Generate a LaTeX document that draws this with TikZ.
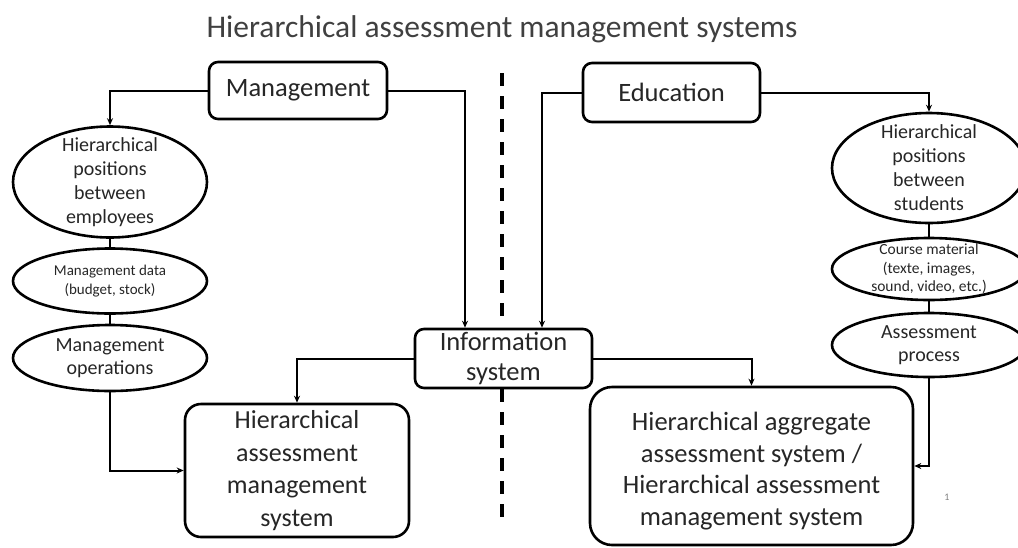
\documentclass[tikz,border=0pt]{standalone}
\usepackage{fontspec}
\setmainfont{Carlito}
\usetikzlibrary{shapes.geometric,arrows.meta}
\definecolor{txt}{HTML}{262626}
\definecolor{ttl}{HTML}{404040}
\begin{document}
\begin{tikzpicture}[x=1pt,y=-1pt,
  box/.style={draw, line width=2.6pt, inner sep=0pt, align=center, text=txt},
  ell/.style={draw, ellipse, line width=2.6pt, minimum width=194pt, inner sep=0pt},
  conn/.style={line width=2pt, -{Stealth[length=7pt,width=6pt]}},
  link/.style={line width=2pt},
  lbl/.style={align=center, text=txt, inner sep=0pt},
  sepline/.style={line width=3.2pt, dash pattern=on 13pt off 10pt}]
\useasboundingbox (0,0) rectangle (1018,547);

% title
\node[anchor=base, text=ttl, font=\fontsize{31.5}{38}\selectfont, inner sep=0pt] (title) at (502,37) {Hierarchical assessment management systems};

% top boxes
\node[box, rounded corners=9pt, minimum width=178pt, minimum height=57pt, font=\fontsize{26.5}{31}\selectfont] (mgmt) at (298,90.5) {Management};
\node[box, rounded corners=9pt, minimum width=177pt, minimum height=59pt, font=\fontsize{26.5}{31}\selectfont] (edu) at (671.5,92.5) {Education};

% information system
\node[box, rounded corners=9pt, minimum width=177pt, minimum height=59pt, font=\fontsize{26.5}{30}\selectfont] (info) at (503.5,358.5) {Information\\system};

% bottom boxes
\node[box, rounded corners=16pt, minimum width=224pt, minimum height=133pt, font=\fontsize{26}{32.5}\selectfont] (lbox) at (297,470.5) {Hierarchical\\assessment\\management\\system};
\node[box, rounded corners=22pt, minimum width=323pt, minimum height=158pt, font=\fontsize{26.5}{31.5}\selectfont] (rbox) at (751.5,466) {};
\node[lbl, font=\fontsize{26.5}{31.5}\selectfont] (rboxt) at (751.5,471) {Hierarchical aggregate\\assessment system /\\Hierarchical assessment\\management system};

% left ellipses
\node[ell, minimum height=111pt] (e1) at (110,182) {};
\node[lbl, font=\fontsize{20}{24}\selectfont] (e1t) at (e1) {Hierarchical\\positions\\between\\employees};
\node[ell, minimum height=65pt] (e2) at (110,281) {};
\node[lbl, font=\fontsize{15}{18.5}\selectfont] (e2t) at (e2) {Management data\\(budget, stock)};
\node[ell, minimum height=66pt] (e3) at (110,358) {};
\node[lbl, font=\fontsize{20}{23}\selectfont] (e3t) at (e3) {Management\\operations};

% right ellipses
\node[ell, minimum height=110pt] (r1) at (929,168) {};
\node[lbl, font=\fontsize{20}{24}\selectfont] (r1t) at (r1) {Hierarchical\\positions\\between\\students};
\node[ell, minimum height=62pt] (r2) at (929,269) {};
\node[lbl, font=\fontsize{15.5}{18.5}\selectfont] (r2t) at (r2) {Course material\\(texte, images,\\sound, video, etc.)};
\node[ell, minimum height=64pt] (r3) at (929,345) {};
\node[lbl, font=\fontsize{20}{23}\selectfont] (r3t) at (r3) {Assessment\\process};

% page number
\node[text=gray, font=\fontsize{10}{12}\selectfont, inner sep=0pt] (pg) at (947,497) {1};

% dashed separator
\coordinate (d1) at (502,73);
\coordinate (d2) at (502,317);
\coordinate (d3) at (502,389);
\coordinate (d4) at (502,517);
\draw[sepline] (d1) -- (d2);
\draw[sepline] (d3) -- (d4);

% connectors
\draw[conn] (mgmt.west) -| (e1.north);
\draw[conn] (mgmt.east) -| ([xshift=-38.5pt]info.north);
\draw[conn] (edu.west) -| ([xshift=38.5pt]info.north);
\draw[conn] (edu.east) -| (r1.north);
\draw[conn] (info.west) -| (lbox.north);
\draw[conn] (info.east) -| (rbox.north);
\draw[conn] (e3.south) |- (lbox.west);
\draw[conn] (r3.south) |- (rbox.east);
\draw[link] (e1.south) -- (e2.north);
\draw[link] (e2.south) -- (e3.north);
\draw[link] (r1.south) -- (r2.north);
\draw[link] (r2.south) -- (r3.north);
\end{tikzpicture}
\end{document}
